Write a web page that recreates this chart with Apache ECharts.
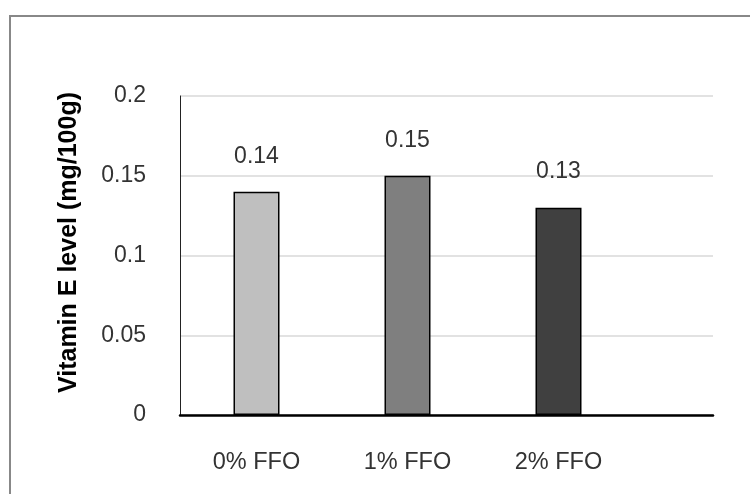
<!DOCTYPE html>
<html>
<head>
<meta charset="utf-8">
<script src="https://cdn.jsdelivr.net/npm/echarts@6/dist/echarts.min.js"></script>
<style>
html,body{margin:0;padding:0;background:#fff;}
#wrap{position:relative;width:750px;height:494px;overflow:hidden;}
#frame{position:absolute;left:9px;top:15px;width:800px;height:600px;border-left:2px solid #888;border-top:2px solid #888;box-sizing:border-box;}
#chart{position:absolute;left:0;top:0;width:750px;height:494px;}
</style>
</head>
<body>
<div id="wrap"><div id="frame"></div><div id="chart"></div></div>
<script>
const categories = ['0% FFO', '1% FFO', '2% FFO'];
const values = [0.14, 0.15, 0.13];
const barColors = ['#bfbfbf', '#7f7f7f', '#404040'];
const yTicks = [0, 0.05, 0.1, 0.15, 0.2];
const yTitle = 'Vitamin E level (mg/100g)';

const chart = echarts.init(document.getElementById('chart'));
const font = 'Liberation Sans';
chart.setOption({
  animation: false,
  grid: [
    {left: 180, right: 37, top: 96, bottom: 79},
    {left: 181, width: 453, top: 96, bottom: 79}
  ],
  xAxis: [
    {gridIndex: 0, type: 'category', data: [''], axisLine: {show: true, lineStyle: {color: '#000', width: 2.5}}, axisTick: {show: false}, axisLabel: {show: false}},
    {gridIndex: 1, type: 'category', data: categories, axisLine: {show: false}, axisTick: {show: false},
      axisLabel: {color: '#333', fontFamily: font, fontSize: 23.5, margin: 36}}
  ],
  yAxis: [
    {gridIndex: 0, type: 'value', min: yTicks[0], max: yTicks[yTicks.length - 1], interval: 0.05,
      axisLine: {show: true, lineStyle: {color: '#222', width: 1}}, axisTick: {show: false},
      axisLabel: {color: '#333', fontFamily: font, fontSize: 23, margin: 34, formatter: v => String(+v.toFixed(2))},
      splitLine: {show: true, lineStyle: {color: '#d9d9d9', width: 1.5}},
      name: yTitle, nameLocation: 'middle', nameGap: 98, nameRotate: 90, nameMoveOverlap: false,
      nameTextStyle: {color: '#000', fontFamily: font, fontSize: 25, fontWeight: 'bold', padding: [0, 0, 0, 26]}},
    {gridIndex: 1, type: 'value', min: yTicks[0], max: yTicks[yTicks.length - 1], show: false}
  ],
  series: [{
    type: 'bar', xAxisIndex: 1, yAxisIndex: 1,
    barWidth: 46,
    data: values.map((v, i) => ({value: v, itemStyle: {color: barColors[i]}})),
    itemStyle: {borderColor: '#000', borderWidth: 1.5},
    label: {show: true, position: 'top', distance: 24, color: '#333', fontFamily: font, fontSize: 23}
  }]
});
</script>
</body>
</html>
